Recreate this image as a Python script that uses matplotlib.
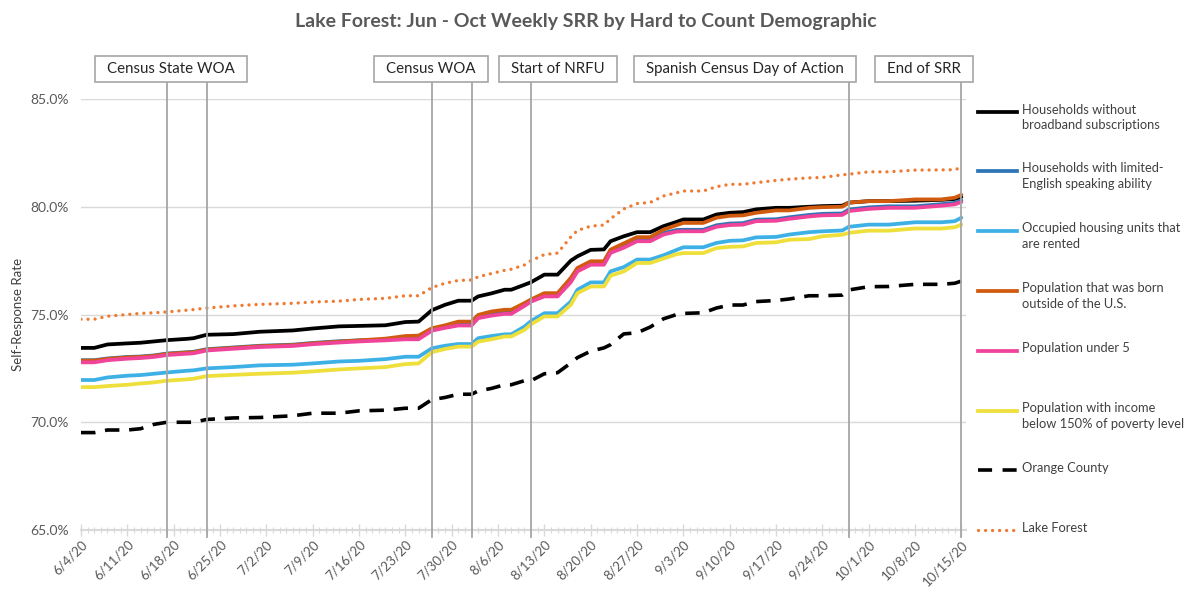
import matplotlib
matplotlib.use("Agg")
import matplotlib.pyplot as plt
import matplotlib.dates as mdates
from matplotlib.lines import Line2D
from matplotlib.patches import Rectangle
import matplotlib.transforms as mtransforms
import pandas as pd

plt.rcParams['font.family'] = ['Lato', 'DejaVu Sans']

start_date = "2020-06-04"
day_offsets = [0, 2, 4, 7, 9, 11, 13, 16, 17, 19, 23, 27, 32, 35, 39, 42, 46, 49, 51, 53,
               55, 57, 59, 60, 62, 64, 65, 67, 68, 70, 72, 74, 75, 77, 79, 80, 82, 84, 86, 88,
               90, 91, 94, 96, 98, 100, 102, 105, 107, 110, 112, 115, 116, 119, 122, 126, 130, 132, 133]

no_broadband = [73.45, 73.45, 73.61, 73.66, 73.69, 73.75, 73.81, 73.87, 73.90, 74.06,
                74.09, 74.20, 74.26, 74.35, 74.45, 74.47, 74.50, 74.65, 74.67, 75.20,
                75.45, 75.64, 75.64, 75.84, 75.98, 76.15, 76.15, 76.38, 76.50, 76.85,
                76.85, 77.50, 77.70, 78.00, 78.02, 78.40, 78.63, 78.82, 78.82, 79.10,
                79.30, 79.41, 79.41, 79.64, 79.72, 79.75, 79.88, 79.95, 79.95, 80.00,
                80.03, 80.05, 80.19, 80.26, 80.26, 80.28, 80.32, 80.36, 80.45]
limited_english = [72.88, 72.88, 72.96, 73.03, 73.05, 73.10, 73.19, 73.25, 73.27, 73.39,
                   73.47, 73.55, 73.60, 73.68, 73.76, 73.80, 73.83, 73.93, 73.93, 74.32,
                   74.45, 74.56, 74.56, 74.90, 75.02, 75.10, 75.10, 75.47, 75.67, 75.91,
                   75.91, 76.57, 77.07, 77.38, 77.38, 77.93, 78.17, 78.47, 78.47, 78.78,
                   78.92, 78.93, 78.93, 79.14, 79.22, 79.24, 79.40, 79.42, 79.51, 79.62,
                   79.67, 79.69, 79.87, 79.97, 80.02, 80.02, 80.12, 80.18, 80.29]
rented = [71.96, 71.96, 72.08, 72.16, 72.19, 72.25, 72.31, 72.39, 72.41, 72.50,
          72.56, 72.64, 72.67, 72.73, 72.82, 72.85, 72.93, 73.04, 73.04, 73.43,
          73.55, 73.63, 73.63, 73.90, 74.00, 74.08, 74.08, 74.44, 74.70, 75.06,
          75.06, 75.60, 76.15, 76.49, 76.49, 77.00, 77.20, 77.55, 77.55, 77.75,
          78.00, 78.12, 78.12, 78.32, 78.42, 78.44, 78.58, 78.60, 78.71, 78.82,
          78.86, 78.90, 79.07, 79.17, 79.17, 79.28, 79.28, 79.33, 79.49]
born_outside = [72.86, 72.86, 72.94, 73.01, 73.03, 73.08, 73.17, 73.23, 73.25, 73.37,
                73.45, 73.53, 73.58, 73.66, 73.74, 73.80, 73.88, 74.00, 74.02, 74.36,
                74.50, 74.67, 74.67, 74.98, 75.14, 75.22, 75.22, 75.53, 75.70, 75.99,
                75.99, 76.70, 77.16, 77.47, 77.47, 78.01, 78.30, 78.59, 78.59, 78.94,
                79.15, 79.25, 79.25, 79.49, 79.58, 79.60, 79.72, 79.83, 79.83, 79.95,
                79.98, 80.00, 80.19, 80.26, 80.26, 80.34, 80.34, 80.42, 80.55]
under_5 = [72.78, 72.78, 72.88, 72.95, 72.98, 73.03, 73.12, 73.18, 73.20, 73.33,
           73.41, 73.49, 73.54, 73.62, 73.70, 73.75, 73.80, 73.85, 73.85, 74.25,
           74.38, 74.49, 74.49, 74.83, 74.95, 75.03, 75.03, 75.40, 75.60, 75.84,
           75.84, 76.50, 77.00, 77.31, 77.31, 77.86, 78.10, 78.40, 78.40, 78.71,
           78.85, 78.86, 78.86, 79.07, 79.15, 79.17, 79.33, 79.35, 79.44, 79.55,
           79.60, 79.62, 79.80, 79.90, 79.95, 79.95, 80.05, 80.11, 80.22]
low_income = [71.63, 71.63, 71.68, 71.74, 71.80, 71.85, 71.93, 71.99, 72.02, 72.14,
              72.20, 72.25, 72.30, 72.36, 72.45, 72.50, 72.56, 72.70, 72.73, 73.25,
              73.40, 73.51, 73.51, 73.74, 73.85, 73.98, 73.98, 74.29, 74.55, 74.91,
              74.91, 75.45, 75.99, 76.30, 76.30, 76.80, 77.00, 77.39, 77.39, 77.60,
              77.80, 77.85, 77.85, 78.08, 78.14, 78.16, 78.32, 78.35, 78.47, 78.50,
              78.63, 78.70, 78.79, 78.89, 78.89, 78.99, 78.99, 79.05, 79.17]
orange_county = [69.52, 69.52, 69.64, 69.64, 69.70, 69.90, 70.00, 70.00, 70.00, 70.13,
                 70.20, 70.22, 70.30, 70.42, 70.42, 70.53, 70.56, 70.65, 70.65, 71.05,
                 71.15, 71.30, 71.30, 71.45, 71.57, 71.74, 71.74, 71.93, 71.93, 72.25,
                 72.30, 72.75, 73.00, 73.30, 73.45, 73.60, 74.10, 74.15, 74.42, 74.80,
                 75.00, 75.05, 75.08, 75.30, 75.44, 75.44, 75.60, 75.65, 75.72, 75.87,
                 75.87, 75.90, 76.14, 76.29, 76.30, 76.40, 76.40, 76.45, 76.55]
lake_forest = [74.78, 74.78, 74.92, 75.00, 75.05, 75.08, 75.12, 75.20, 75.23, 75.30,
               75.40, 75.47, 75.52, 75.58, 75.62, 75.70, 75.75, 75.87, 75.87, 76.25,
               76.45, 76.58, 76.60, 76.75, 76.90, 77.05, 77.10, 77.30, 77.50, 77.78,
               77.85, 78.60, 78.90, 79.10, 79.15, 79.44, 79.90, 80.15, 80.20, 80.50,
               80.65, 80.73, 80.73, 80.93, 81.04, 81.04, 81.12, 81.22, 81.28, 81.34,
               81.36, 81.48, 81.51, 81.62, 81.62, 81.70, 81.71, 81.72, 81.82]

labels = ["Households without\nbroadband subscriptions",
          "Households with limited-\nEnglish speaking ability",
          "Occupied housing units that\nare rented",
          "Population that was born\noutside of the U.S.",
          "Population under 5",
          "Population with income\nbelow 150% of poverty level",
          "Orange County",
          "Lake Forest"]

event_dates = ["2020-06-17", "2020-06-23", "2020-07-27", "2020-08-02",
               "2020-08-11", "2020-09-28", "2020-10-15"]
event_names = ["Census State WOA", "Census WOA", "Start of NRFU",
               "Spanish Census Day of Action", "End of SRR"]

end_date = "2020-10-15"

# ---- styling ----
series = [no_broadband, limited_english, rented, born_outside, under_5, low_income,
          orange_county, lake_forest]
colors = ["#000000", "#2E75B6", "#3DB1E6", "#D05A0E", "#F0439A", "#EEDF3A",
          "#000000", "#F07A30"]
DASH = (0, (4.0, 2.7))
DOT = (0, (0.01, 2.1))
styles = ["-", "-", "-", "-", "-", "-", DASH, DOT]
widths = [2.7, 2.7, 2.7, 2.7, 2.7, 2.7, 2.6, 2.4]

W, H = 1191, 598
fig = plt.figure(figsize=(W / 100, H / 100), dpi=100)

def fx(px):
    return px / W

def fy(py):
    return 1 - py / H

ax_l, ax_r, ax_t, ax_b = 81, 966, 99, 530
ax = fig.add_axes([fx(ax_l), fy(ax_b), fx(ax_r) - fx(ax_l), fy(ax_t) - fy(ax_b)])

x = pd.to_datetime(start_date) + pd.to_timedelta(day_offsets, unit="D")
for vals, c, ls, lw in zip(series, colors, styles, widths):
    ax.plot(x, vals, color=c, linestyle=ls, linewidth=lw,
            solid_capstyle="round", solid_joinstyle="round",
            dash_capstyle="round" if ls == DOT else "butt")

x0 = pd.to_datetime(start_date)
x1 = pd.to_datetime(end_date)
ax.set_xlim(mdates.date2num(x0), mdates.date2num(x1) + 0.7)
ax.set_ylim(65, 85)

ax.set_yticks([65, 70, 75, 80, 85])
ax.set_yticklabels([f"{v:.1f}%" for v in [65, 70, 75, 80, 85]])
ax.yaxis.grid(True, color="#D9D9D9", linewidth=1)
ax.set_axisbelow(True)

weekly = pd.date_range(x0, x1, freq="7D")
ax.set_xticks(mdates.date2num(weekly))
ax.set_xticklabels([f"{d.month}/{d.day}/{d.year % 100}" for d in weekly],
                   rotation=45, ha="right", rotation_mode="anchor")
ax.set_xticks(mdates.date2num(pd.date_range(x0, x1, freq="D")), minor=True)

for s in ["top", "right", "left"]:
    ax.spines[s].set_visible(False)
ax.spines["bottom"].set_color("#D9D9D9")
ax.spines["bottom"].set_linewidth(1.5)
ax.tick_params(axis="x", which="major", direction="inout", length=8, width=1,
               color="#D9D9D9", labelsize=9.5, labelcolor="#595959", pad=2)
ax.tick_params(axis="x", which="minor", direction="inout", length=5, width=0.8,
               color="#D9D9D9")
ax.tick_params(axis="y", length=0, labelsize=10, labelcolor="#595959", pad=9)

ax.set_ylabel("Self-Response Rate", fontsize=9.5, color="#404040")
ax.yaxis.set_label_coords((24 - ax_l) / (ax_r - ax_l), 0.5)

# event lines
trans = mtransforms.blended_transform_factory(ax.transData, ax.transAxes)
top_frac = 1 + (ax_t - 82) / (ax_b - ax_t)
bot_frac = -(537 - ax_b) / (ax_b - ax_t)
for d in event_dates:
    xd = mdates.date2num(pd.to_datetime(d))
    ax.plot([xd, xd], [bot_frac, top_frac], transform=trans, color="#A6A6A6",
            linewidth=1.3, clip_on=False, zorder=5)

# event boxes
box_centers = [171, 431, 558, 745, 924]
fig.canvas.draw()
renderer = fig.canvas.get_renderer()
for name, cx in zip(event_names, box_centers):
    t = fig.text(fx(cx), fy(69), name, ha="center", va="center", fontsize=10.8,
                 color="#262626", zorder=7)
    bb = t.get_window_extent(renderer)
    bw = bb.width + 24
    rect = Rectangle((fx(cx - bw / 2), fy(82)), bw / W, 26 / H,
                     transform=fig.transFigure, facecolor="white",
                     edgecolor="#A6A6A6", linewidth=1.2, zorder=6)
    fig.add_artist(rect)

# legend
leg_y = [112, 171, 231, 291, 351, 411, 470, 530]
for lab, c, ls, lw, ly in zip(labels, colors, styles, widths, leg_y):
    ls_leg = (0, (3.9, 2.9)) if ls == DASH else ls
    ln = Line2D([fx(978), fx(1017)], [fy(ly), fy(ly)], transform=fig.transFigure,
                color=c, linestyle=ls_leg, linewidth=lw,
                dash_capstyle="round" if ls == DOT else "butt")
    fig.add_artist(ln)
    fig.text(fx(1022), fy(ly - 8.5), lab, ha="left", va="top", fontsize=9.3,
             color="#404040", linespacing=1.3)

fig.text(fx(586), fy(22), "Lake Forest: Jun - Oct Weekly SRR by Hard to Count Demographic",
         ha="center", va="center", fontsize=14, fontweight="bold", color="#595959")

fig.savefig("out.png", dpi=100)
